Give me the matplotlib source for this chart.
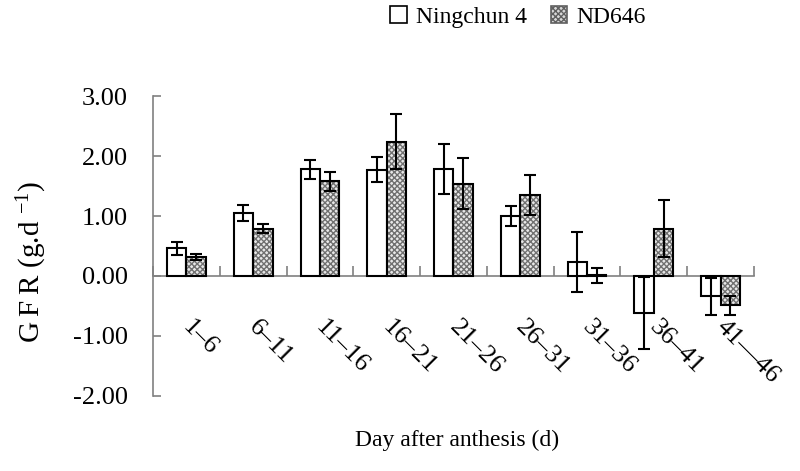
import matplotlib
matplotlib.use("Agg")
import matplotlib.pyplot as plt
import matplotlib.transforms as mtransforms
from matplotlib.patches import Patch
import numpy as np

categories = ["1–6", "6–11", "11–16", "16–21", "21–26", "26–31", "31–36", "36–41", "41—46"]
ningchun = [0.46, 1.05, 1.78, 1.77, 1.78, 1.00, 0.24, -0.61, -0.34]
ningchun_err = [0.11, 0.13, 0.16, 0.21, 0.42, 0.17, 0.50, 0.60, 0.31]
nd646 = [0.32, 0.79, 1.58, 2.24, 1.54, 1.35, 0.01, 0.79, -0.49]
nd646_err = [0.05, 0.08, 0.16, 0.46, 0.43, 0.34, 0.13, 0.47, 0.16]
yticks = [-2, -1, 0, 1, 2, 3]

plt.rcParams['font.family'] = ['Liberation Serif', 'DejaVu Serif']
plt.rcParams['mathtext.fontset'] = 'custom'
plt.rcParams['mathtext.rm'] = 'Liberation Serif'
plt.rcParams['mathtext.it'] = 'Liberation Serif'

fig = plt.figure(figsize=(8, 4.71), dpi=100)
ax = fig.add_axes([153/800, 1-396/471, (754-153)/800, 300/471])

x = np.arange(len(categories))
w = 0.29
off = 0.145
gray = '#808080'

ax.bar(x - off, ningchun, w, color='white', edgecolor='black', linewidth=1.5, zorder=2)
ax.bar(x + off, nd646, w, color='#e8e8e8', edgecolor='#707070', hatch='xxxxxx', linewidth=0, zorder=2)
ax.bar(x + off, nd646, w, color='none', edgecolor='black', linewidth=1.5, zorder=3)

ax.errorbar(x - off, ningchun, yerr=ningchun_err, fmt='none', ecolor='black',
            elinewidth=1.5, capsize=4.5, capthick=1.5, zorder=4)
ax.errorbar(x + off, nd646, yerr=nd646_err, fmt='none', ecolor='black',
            elinewidth=1.5, capsize=4.5, capthick=1.5, zorder=4)

ax.set_xlim(-0.5, len(categories) - 0.5)
ax.set_ylim(-2, 3)
ax.set_yticks(yticks)
ax.set_yticklabels([f"{v:.2f}" for v in yticks], fontsize=19)

ax.spines['top'].set_visible(False)
ax.spines['right'].set_visible(False)
ax.spines['bottom'].set_position(('data', 0))
for s in ['left', 'bottom']:
    ax.spines[s].set_color(gray)
    ax.spines[s].set_linewidth(1.2)
    ax.spines[s].set_zorder(1)

ax.tick_params(axis='y', direction='in', length=6, width=1.2, color=gray, pad=18)
ax.set_xticks(x)
ax.set_xticklabels(categories, fontsize=19, rotation=-45, ha='left', va='top',
                   rotation_mode='anchor')
ax.tick_params(axis='x', which='major', length=0, pad=29)
shift = mtransforms.ScaledTranslation(7/100, 0, fig.dpi_scale_trans)
for lab in ax.get_xticklabels():
    lab.set_transform(lab.get_transform() + shift)
ax.set_xticks(np.arange(len(categories) + 1) - 0.5, minor=True)
ax.tick_params(axis='x', which='minor', direction='in', length=7, width=1.2, color=gray)

fig.text(32/800, 1-262/471, "G\u2009F\u2009R (g.d $^{-1}$)", fontsize=21, rotation=90,
         ha='center', va='center')
fig.text(457/800, 1-440/471, "Day after anthesis (d)", fontsize=17, ha='center', va='center')

h1 = Patch(facecolor='white', edgecolor='black', linewidth=1.2)
h2 = Patch(facecolor='#d8d8d8', edgecolor='#606060', hatch='xxxxxx', linewidth=1.2)
fig.legend([h1, h2], ["Ningchun 4", "ND646"], loc='center', bbox_to_anchor=(518/800, 1-17/471),
           ncol=2, frameon=False, fontsize=17, handlelength=0.7, handleheight=0.7,
           handletextpad=0.4, columnspacing=1.0)

fig.savefig("out.png", dpi=100)
